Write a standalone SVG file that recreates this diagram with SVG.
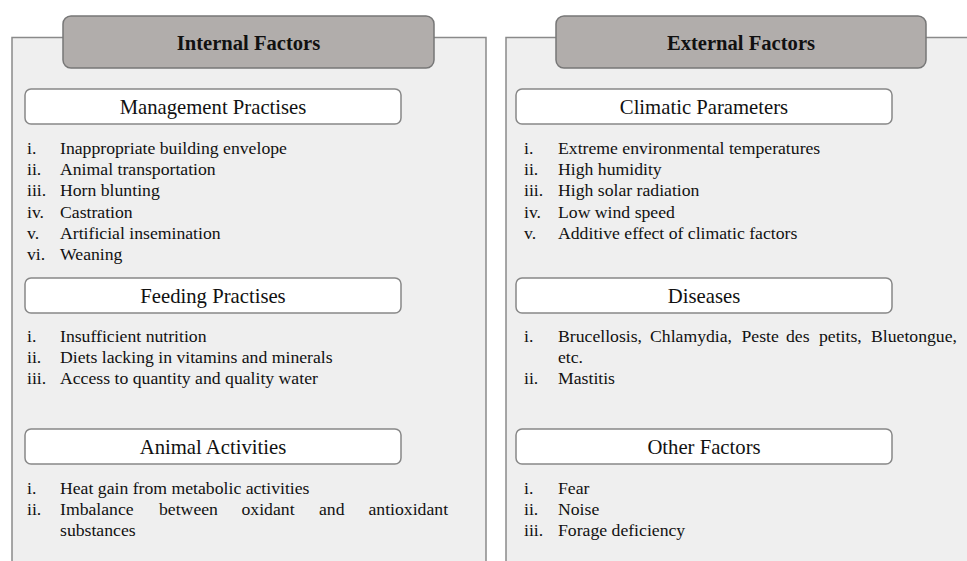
<svg xmlns="http://www.w3.org/2000/svg" width="967" height="561" viewBox="0 0 967 561">
<style>
.panel{fill:#efefef;stroke:#8a8a8a;stroke-width:1.5}
.tab{fill:#b1adab;stroke:#777;stroke-width:1.5}
.sub{fill:#fff;stroke:#888;stroke-width:1.5}
.h{font-family:"Liberation Serif","Times New Roman",serif;font-weight:bold;font-size:20.6px;fill:#111;text-anchor:middle}
.s{font-family:"Liberation Serif","Times New Roman",serif;font-size:20.7px;fill:#111;text-anchor:middle}
.t{font-family:"Liberation Serif","Times New Roman",serif;font-size:17.7px;fill:#111}
</style>
<rect width="967" height="561" fill="#fff"/>
<g id="internal">
<path class="panel" d="M12,568 V37.5 H486 V568 Z"/>
<rect class="tab" x="63" y="16" width="371" height="52" rx="8"/>
<text class="h" x="248.5" y="50">Internal Factors</text>
</g>
<g id="external">
<path class="panel" d="M506,568 V37.5 H975 V568 Z"/>
<rect class="tab" x="556" y="16" width="370" height="52" rx="8"/>
<text class="h" x="741" y="50">External Factors</text>
</g>
<g id="management">
<rect class="sub" x="25" y="89" width="376" height="35" rx="6"/>
<text class="s" x="213" y="113.5">Management Practises</text>
<text class="t" x="27" y="154">i.</text><text class="t" x="60" y="154">Inappropriate building envelope</text>
<text class="t" x="27" y="175.2">ii.</text><text class="t" x="60" y="175.2">Animal transportation</text>
<text class="t" x="27" y="196.4">iii.</text><text class="t" x="60" y="196.4">Horn blunting</text>
<text class="t" x="27" y="217.6">iv.</text><text class="t" x="60" y="217.6">Castration</text>
<text class="t" x="27" y="238.8">v.</text><text class="t" x="60" y="238.8">Artificial insemination</text>
<text class="t" x="27" y="260">vi.</text><text class="t" x="60" y="260">Weaning</text>
</g>
<g id="feeding">
<rect class="sub" x="25" y="278" width="376" height="35" rx="6"/>
<text class="s" x="213" y="302.5">Feeding Practises</text>
<text class="t" x="27" y="342">i.</text><text class="t" x="60" y="342">Insufficient nutrition</text>
<text class="t" x="27" y="363.2">ii.</text><text class="t" x="60" y="363.2">Diets lacking in vitamins and minerals</text>
<text class="t" x="27" y="384.4">iii.</text><text class="t" x="60" y="384.4">Access to quantity and quality water</text>
</g>
<g id="animal">
<rect class="sub" x="25" y="429" width="376" height="35" rx="6"/>
<text class="s" x="213" y="453.5">Animal Activities</text>
<text class="t" x="27" y="493.5">i.</text><text class="t" x="60" y="493.5">Heat gain from metabolic activities</text>
<text class="t" x="27" y="514.7">ii.</text>
<text class="t" y="514.7"><tspan x="60">Imbalance</tspan><tspan x="159">between</tspan><tspan x="241.5">oxidant</tspan><tspan x="319">and</tspan><tspan x="368.5">antioxidant</tspan></text>
<text class="t" x="60" y="536">substances</text>
</g>
<g id="climatic">
<rect class="sub" x="516" y="89" width="376" height="35" rx="6"/>
<text class="s" x="704" y="113.5">Climatic Parameters</text>
<text class="t" x="524" y="154">i.</text><text class="t" x="558" y="154">Extreme environmental temperatures</text>
<text class="t" x="524" y="175.2">ii.</text><text class="t" x="558" y="175.2">High humidity</text>
<text class="t" x="524" y="196.4">iii.</text><text class="t" x="558" y="196.4">High solar radiation</text>
<text class="t" x="524" y="217.6">iv.</text><text class="t" x="558" y="217.6">Low wind speed</text>
<text class="t" x="524" y="238.8">v.</text><text class="t" x="558" y="238.8">Additive effect of climatic factors</text>
</g>
<g id="diseases">
<rect class="sub" x="516" y="278" width="376" height="35" rx="6"/>
<text class="s" x="704" y="302.5">Diseases</text>
<text class="t" x="524" y="342">i.</text>
<text class="t" y="342"><tspan x="558">Brucellosis,</tspan><tspan x="650">Chlamydia,</tspan><tspan x="741.5">Peste</tspan><tspan x="786">des</tspan><tspan x="819">petits,</tspan><tspan x="871">Bluetongue,</tspan></text>
<text class="t" x="558" y="363.2">etc.</text>
<text class="t" x="524" y="384.4">ii.</text><text class="t" x="558" y="384.4">Mastitis</text>
</g>
<g id="other">
<rect class="sub" x="516" y="429" width="376" height="35" rx="6"/>
<text class="s" x="704" y="453.5">Other Factors</text>
<text class="t" x="524" y="493.5">i.</text><text class="t" x="558" y="493.5">Fear</text>
<text class="t" x="524" y="514.7">ii.</text><text class="t" x="558" y="514.7">Noise</text>
<text class="t" x="524" y="536">iii.</text><text class="t" x="558" y="536">Forage deficiency</text>
</g>
<g id="connectors"></g>
</svg>
